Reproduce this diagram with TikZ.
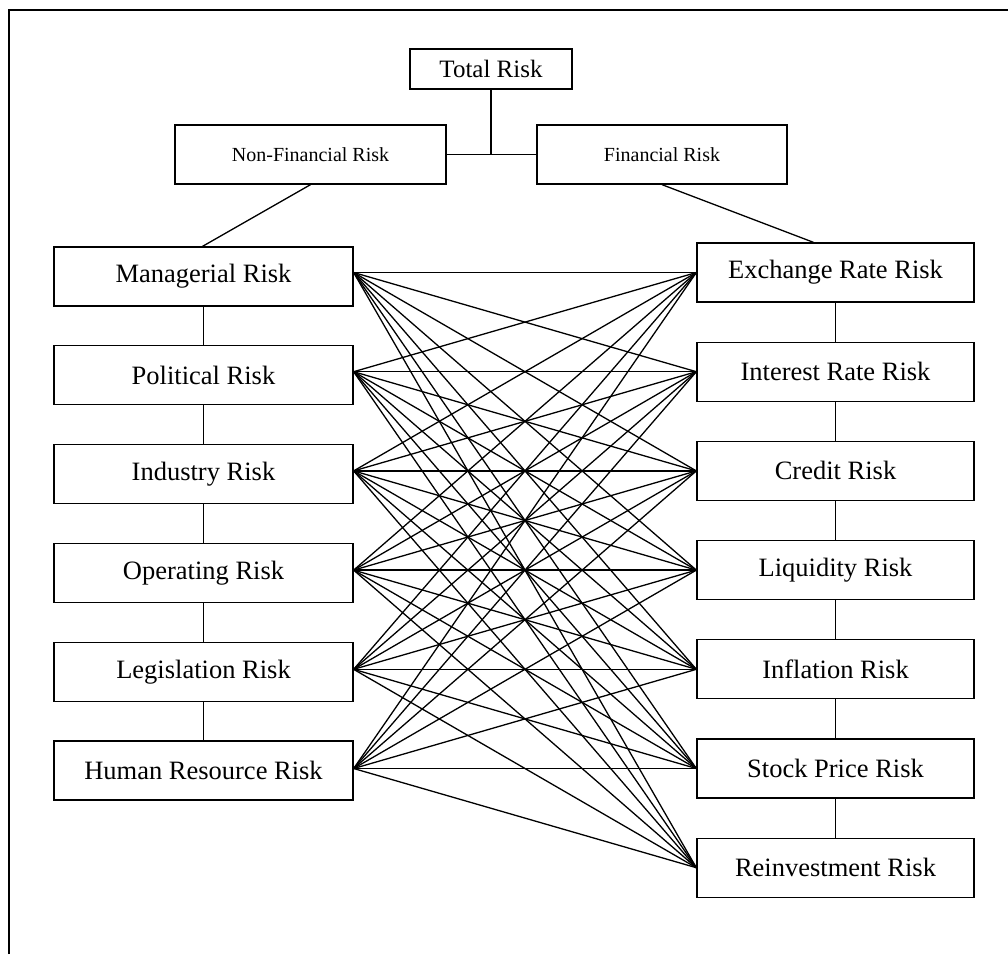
\documentclass[tikz,border=0pt]{standalone}
\usepackage{fontspec}
\setmainfont{Liberation Serif}
\begin{document}
\begin{tikzpicture}[x=1pt,y=-1pt,line width=1.3pt,
    riskbox/.style={draw,inner sep=0pt,minimum height=59pt,font=\fontsize{26.5}{30}\selectfont},
    leftbox/.style={riskbox,minimum width=299pt},
    rightbox/.style={riskbox,minimum width=277pt},
    topbox/.style={riskbox,font=\fontsize{20}{24}\selectfont}]
      \useasboundingbox (0,0) rectangle (1008,954);
      \draw[line width=1.8pt] (9,954) -- (9,10) -- (1008,10);
      \draw
        (491,69) node[riskbox,minimum width=162pt,minimum height=40pt,font=\fontsize{25}{28}\selectfont] (total){Total Risk}
        (310.5,154.5) node[topbox,minimum width=271pt] (nonfin){Non-Financial Risk}
        (662,154.5) node[topbox,minimum width=250pt] (fin){Financial Risk};
      \draw
        (203.5,276.5) node[leftbox] (l1){Managerial Risk}
        (203.5,375.3) node[leftbox] (l2){Political Risk}
        (203.5,474.1) node[leftbox] (l3){Industry Risk}
        (203.5,572.9) node[leftbox] (l4){Operating Risk}
        (203.5,671.7) node[leftbox] (l5){Legislation Risk}
        (203.5,770.5) node[leftbox] (l6){Human Resource Risk};
      \draw
        (835.5,272.5) node[rightbox] (r1){Exchange Rate Risk}
        (835.5,371.7) node[rightbox] (r2){Interest Rate Risk}
        (835.5,470.9) node[rightbox] (r3){Credit Risk}
        (835.5,570.1) node[rightbox] (r4){Liquidity Risk}
        (835.5,669.3) node[rightbox] (r5){Inflation Risk}
        (835.5,768.5) node[rightbox] (r6){Stock Price Risk}
        (835.5,867.7) node[rightbox] (r7){Reinvestment Risk};
      % tree part
      \draw (nonfin.east) to (fin.west);
      \draw (total.south) to (total.south |- fin.west);
      \draw (nonfin.south) to ([xshift=-1pt]l1.north);
      \draw (fin.south) to ([xshift=-22pt]r1.north);
      \draw (l1) to (l2);
      \draw (l2) to (l3);
      \draw (l3) to (l4);
      \draw (l4) to (l5);
      \draw (l5) to (l6);
      \draw (r1) to (r2);
      \draw (r2) to (r3);
      \draw (r3) to (r4);
      \draw (r4) to (r5);
      \draw (r5) to (r6);
      \draw (r6) to (r7);
      % ends of the links on the left boxes
      \coordinate (a1) at (l1.east |- r1.west);
      \coordinate (a2) at (l2.east |- r2.west);
      \coordinate (a3) at (l3.east |- r3.west);
      \coordinate (a4) at (l4.east |- r4.west);
      \coordinate (a5) at (l5.east |- r5.west);
      \coordinate (a6) at (l6.east |- r6.west);
      % every left risk to every right risk
      \begin{scope}[-]
        \draw (a1) to (r1.west);
        \draw (a1) to (r2.west);
        \draw (a1) to (r3.west);
        \draw (a1) to (r4.west);
        \draw (a1) to (r5.west);
        \draw (a1) to (r6.west);
        \draw (a1) to (r7.west);
        \draw (a2) to (r1.west);
        \draw (a2) to (r2.west);
        \draw (a2) to (r3.west);
        \draw (a2) to (r4.west);
        \draw (a2) to (r5.west);
        \draw (a2) to (r6.west);
        \draw (a2) to (r7.west);
        \draw (a3) to (r1.west);
        \draw (a3) to (r2.west);
        \draw (a3) to (r3.west);
        \draw (a3) to (r4.west);
        \draw (a3) to (r5.west);
        \draw (a3) to (r6.west);
        \draw (a3) to (r7.west);
        \draw (a4) to (r1.west);
        \draw (a4) to (r2.west);
        \draw (a4) to (r3.west);
        \draw (a4) to (r4.west);
        \draw (a4) to (r5.west);
        \draw (a4) to (r6.west);
        \draw (a4) to (r7.west);
        \draw (a5) to (r1.west);
        \draw (a5) to (r2.west);
        \draw (a5) to (r3.west);
        \draw (a5) to (r4.west);
        \draw (a5) to (r5.west);
        \draw (a5) to (r6.west);
        \draw (a5) to (r7.west);
        \draw (a6) to (r1.west);
        \draw (a6) to (r2.west);
        \draw (a6) to (r3.west);
        \draw (a6) to (r4.west);
        \draw (a6) to (r5.west);
        \draw (a6) to (r6.west);
        \draw (a6) to (r7.west);
      \end{scope}
    \end{tikzpicture}
\end{document}
